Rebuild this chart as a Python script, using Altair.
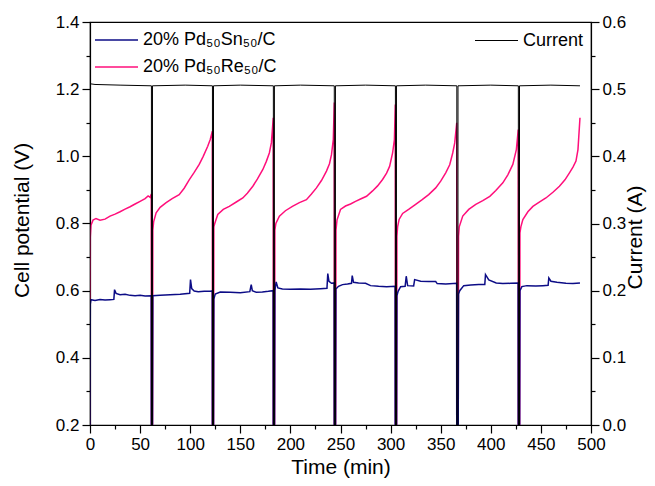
import altair as alt
import pandas as pd

FONT = "Liberation Sans"
PINK = "#FF0F7B"
NAVY = "#0C0C86"

# ---- 20% Pd50Re50/C cell potential (V) vs time (min)
re_t = [0, 0.3, 1, 3, 6, 10, 15, 20, 25, 30, 35, 40, 45, 50, 55, 58, 60, 61.2, 61.3,
        62.4, 62.7, 63.5, 66, 70, 76, 82, 89, 94, 99, 104, 109, 113, 117.5, 120, 122.1, 122.2,
        123.3, 123.6, 124.5, 127.5, 133, 139, 146, 152.5, 157, 162.5, 167, 172.5, 176, 179, 181, 182.9, 183.0,
        184.2, 184.5, 185.5, 189, 195, 202, 209, 216, 221, 226, 231, 236, 239, 241, 242.8, 243.8, 243.9,
        245.1, 245.5, 246.5, 250, 255, 260, 265, 270, 276, 282, 287, 292, 296, 299, 302, 303.8, 304.7, 304.8,
        306.0, 306.3, 307, 308.5, 312, 318, 325, 331.5, 338, 345, 350, 355, 359, 362, 364, 366.0, 366.1,
        367.5, 367.8, 368.5, 372, 378, 385, 392, 399, 405, 412, 417, 422, 425.5, 427.4, 427.5,
        428.8, 429.1, 430, 432, 437, 442, 448, 455, 462, 468.5, 474, 478.5, 482, 485, 487, 489]
re_v = [0.2, 0.76, 0.795, 0.81, 0.815, 0.81, 0.813, 0.822, 0.828, 0.835, 0.843, 0.85, 0.858, 0.866, 0.874, 0.882, 0.878, 0.888, 0.2,
        0.2, 0.78, 0.805, 0.832, 0.848, 0.862, 0.874, 0.886, 0.905, 0.93, 0.952, 0.976, 1.0, 1.03, 1.05, 1.075, 0.2,
        0.2, 0.79, 0.80, 0.827, 0.842, 0.851, 0.864, 0.876, 0.89, 0.911, 0.932, 0.961, 0.985, 1.01, 1.04, 1.115, 0.2,
        0.2, 0.78, 0.80, 0.822, 0.838, 0.851, 0.862, 0.871, 0.888, 0.906, 0.928, 0.956, 0.978, 1.005, 1.05, 1.16, 0.2,
        0.2, 0.78, 0.81, 0.842, 0.852, 0.858, 0.866, 0.873, 0.881, 0.897, 0.912, 0.931, 0.95, 0.97, 1.01, 1.05, 1.154, 0.2,
        0.2, 0.762, 0.79, 0.812, 0.83, 0.842, 0.857, 0.871, 0.886, 0.906, 0.926, 0.951, 0.975, 1.01, 1.04, 1.10, 0.2,
        0.2, 0.762, 0.79, 0.822, 0.842, 0.857, 0.868, 0.881, 0.898, 0.921, 0.945, 0.976, 1.02, 1.08, 0.2,
        0.2, 0.772, 0.79, 0.812, 0.835, 0.851, 0.863, 0.876, 0.893, 0.911, 0.93, 0.951, 0.968, 0.986, 1.02, 1.115]

# ---- 20% Pd50Sn50/C cell potential (V) vs time (min)
sn_t = [0, 0.3, 1, 5, 10, 15, 20, 23.8, 24.5, 26, 30, 35, 40, 45, 50, 55, 61.1, 61.2,
        62.4, 62.7, 70, 80, 90, 99.5, 100.3, 101.5, 104, 108, 114, 120, 122.0, 122.1,
        123.3, 123.6, 125, 130, 140, 150, 159.5, 160.9, 162, 166, 172, 178, 182.8, 182.9,
        184.2, 184.5, 185.8, 187.5, 192, 200, 210, 220, 230, 236.5, 237.3, 238.5, 241, 243.7, 243.8,
        245.1, 245.4, 248, 252, 257, 261, 261.7, 263, 268, 275, 280, 288, 296, 304.5, 304.6,
        306.0, 306.3, 307.5, 310, 314.5, 315.6, 317, 323, 324, 330, 338, 345, 346.5, 355, 365.9, 366.0,
        367.5, 367.8, 369, 373, 380, 388, 394, 394.7, 398, 405.4, 412, 420, 427.3, 427.4,
        428.8, 429.1, 431, 436, 445, 452, 457.2, 457.9, 460, 466, 475, 482, 489]
sn_v = [0.2, 0.56, 0.573, 0.571, 0.574, 0.572, 0.573, 0.574, 0.603, 0.592, 0.588, 0.589, 0.586, 0.585, 0.586, 0.584, 0.585, 0.2,
        0.2, 0.585, 0.586, 0.588, 0.589, 0.592, 0.633, 0.606, 0.599, 0.597, 0.598, 0.598, 0.599, 0.2,
        0.2, 0.575, 0.59, 0.596, 0.595, 0.594, 0.597, 0.618, 0.6, 0.595, 0.596, 0.598, 0.6, 0.2,
        0.2, 0.6, 0.626, 0.608, 0.605, 0.604, 0.605, 0.604, 0.606, 0.607, 0.651, 0.628, 0.622, 0.623, 0.2,
        0.2, 0.605, 0.613, 0.618, 0.62, 0.622, 0.645, 0.625, 0.623, 0.622, 0.615, 0.613, 0.612, 0.613, 0.2,
        0.2, 0.585, 0.598, 0.612, 0.613, 0.643, 0.615, 0.614, 0.633, 0.628, 0.627, 0.627, 0.621, 0.62, 0.622, 0.2,
        0.2, 0.59, 0.6, 0.615, 0.617, 0.618, 0.618, 0.648, 0.632, 0.623, 0.621, 0.622, 0.623, 0.2,
        0.2, 0.6, 0.612, 0.615, 0.614, 0.615, 0.616, 0.638, 0.628, 0.625, 0.622, 0.621, 0.623]

# ---- Current (A) vs time (min)
cur_t = [0, 0.2, 5, 30,
         61.3, 61.35, 62.3, 62.35, 95,
         122.2, 122.25, 123.2, 123.25, 150,
         183.0, 183.05, 184.0, 184.05, 210,
         243.8, 243.85, 244.9, 244.95, 275,
         304.8, 304.85, 305.8, 305.85, 335,
         366.1, 366.15, 367.2, 367.25, 400,
         427.5, 427.55, 428.6, 428.65, 460,
         489]
cur_v = [0, 0.508, 0.507, 0.506,
         0.505, 0, 0, 0.505, 0.506,
         0.505, 0, 0, 0.505, 0.506,
         0.505, 0, 0, 0.505, 0.506,
         0.505, 0, 0, 0.505, 0.506,
         0.505, 0, 0, 0.505, 0.506,
         0.505, 0, 0, 0.505, 0.506,
         0.505, 0, 0, 0.505, 0.506,
         0.505]

# ---- axis ticks (major + minor)
x_ticks = list(range(0, 501, 25))
left_ticks = [0.2, 0.3, 0.4, 0.5, 0.6, 0.7, 0.8, 0.9, 1.0, 1.1, 1.2, 1.3, 1.4]
right_ticks = [0.0, 0.05, 0.1, 0.15, 0.2, 0.25, 0.3, 0.35, 0.4, 0.45, 0.5, 0.55, 0.6]

series_names = ["20% Pd\u2085\u2080Sn\u2085\u2080/C", "20% Pd\u2085\u2080Re\u2085\u2080/C", "Current"]

pot = pd.DataFrame({
    "t": re_t + sn_t,
    "v": re_v + sn_v,
    "s": ["Re"] * len(re_t) + ["Sn"] * len(sn_t),
})
cur = pd.DataFrame({"t": cur_t, "i": cur_v})
dummy = pd.DataFrame({"a": [0]})

x_major = "datum.value % 50 == 0"
l_major = "round(datum.value * 10) % 2 == 0"
r_major = "round(datum.value * 20) % 2 == 0"

x_enc = alt.X(
    "t:Q",
    scale=alt.Scale(domain=[0, 500], nice=False, zero=False),
    axis=alt.Axis(
        values=x_ticks, format="d", labelFlush=False,
        labelExpr=f"{x_major} ? datum.label : ''",
        tickSize={"condition": {"test": x_major, "value": 8}, "value": 4},
        title="Time (min)", titleY=48, titleBaseline="alphabetic",
        labelPadding=3,
    ),
)

left = alt.Chart(pot).mark_line(strokeWidth=1.5, clip=True).encode(
    x=x_enc,
    y=alt.Y(
        "v:Q",
        scale=alt.Scale(domain=[0.2, 1.4], nice=False, zero=False),
        axis=alt.Axis(
            values=left_ticks, format=".1f", labelFlush=False,
            labelExpr=f"{l_major} ? datum.label : ''",
            tickSize={"condition": {"test": l_major, "value": 8}, "value": 4},
            title="Cell potential (V)", titleAngle=270, titleX=-68, titleY=198,
            titleAlign="center", titleBaseline="middle", labelPadding=3,
        ),
    ),
    color=alt.Color("s:N", scale=alt.Scale(domain=["Sn", "Re"], range=[NAVY, PINK]), legend=None),
)

right = alt.Chart(cur).mark_line(strokeWidth=1, color="black", clip=True).encode(
    x=x_enc,
    y=alt.Y(
        "i:Q",
        scale=alt.Scale(domain=[0, 0.6], nice=False, zero=False),
        axis=alt.Axis(
            orient="right", values=right_ticks, format=".1f", labelFlush=False,
            labelExpr=f"{r_major} ? datum.label : ''",
            tickSize={"condition": {"test": r_major, "value": 8}, "value": 4},
            title="Current (A)", titleAngle=270, titleX=44, titleY=215,
            titleAlign="center", titleBaseline="middle", labelPadding=3,
        ),
    ),
)


def legend_entry(label, color, x0, x1, y, width):
    rule = alt.Chart(dummy).mark_rule(color=color, strokeWidth=width).encode(
        x=alt.value(x0), x2=alt.value(x1), y=alt.value(y)
    )
    text = alt.Chart(dummy).mark_text(
        align="left", baseline="middle", font=FONT, fontSize=18, color="black"
    ).encode(x=alt.value(x1 + 5), y=alt.value(y), text=alt.value(label))
    return [rule, text]


legend_layers = (
    legend_entry(series_names[0], NAVY, 5, 48, 18, 1.5)
    + legend_entry(series_names[1], PINK, 5, 48, 45, 1.5)
    + legend_entry(series_names[2], "black", 385, 428, 18.5, 1)
)

chart = alt.layer(left, right, *legend_layers).resolve_scale(y="independent").properties(
    width=501, height=403,
    autosize=alt.AutoSizeParams(type="none"),
    padding={"left": 82, "top": 14, "right": 56, "bottom": 53},
).configure_view(stroke="black", strokeWidth=1.2).configure_axis(
    labelFont=FONT, titleFont=FONT, labelFontSize=17, titleFontSize=21,
    titleFontWeight="normal", labelColor="black", titleColor="black",
    domainColor="black", tickColor="black", domainWidth=1.2, tickWidth=1.2, grid=False,
)

chart.save("out.html", embed_options={"renderer": "svg", "actions": False})
